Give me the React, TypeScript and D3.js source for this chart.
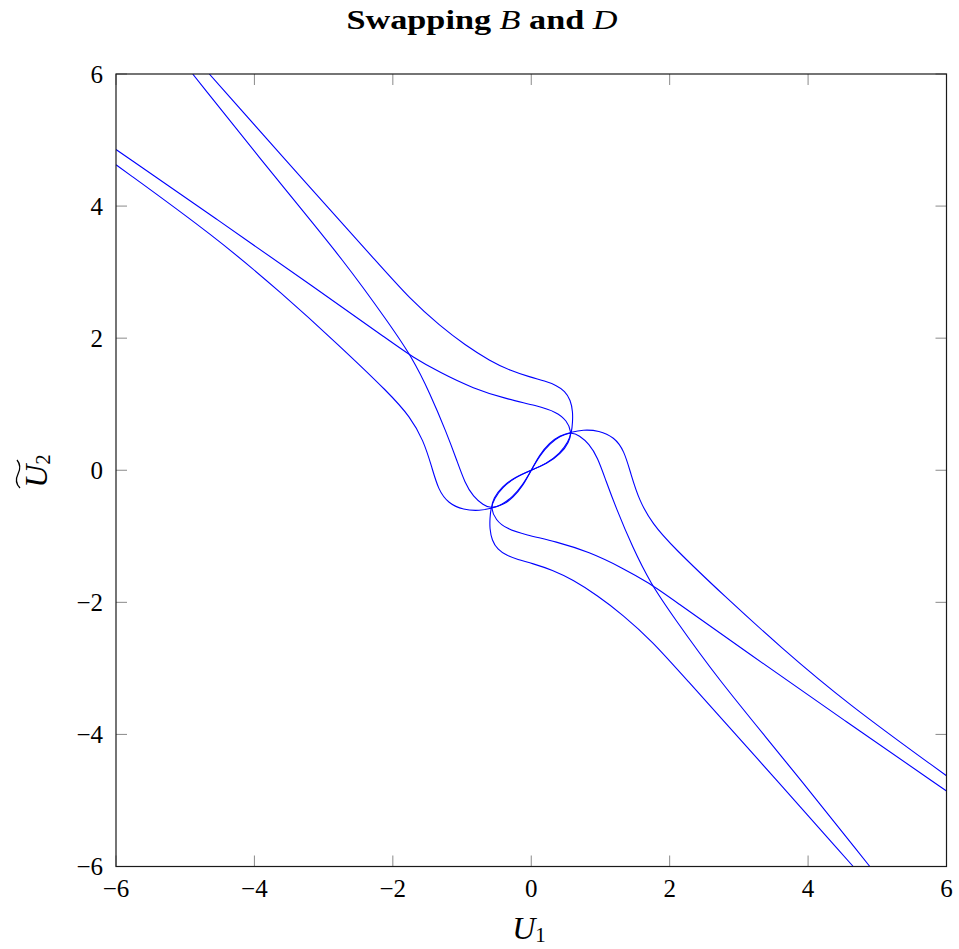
import React from 'react';
import * as d3 from 'd3';

type P = [number, number];

const xTicks = [-6, -4, -2, 0, 2, 4, 6];
const yTicks = [-6, -4, -2, 0, 2, 4, 6];

// steep inner branch
const curveA: P[] = [
  [-4.652, 6.0], [-3.197, 4.282], [-2.185, 3.1], [-1.751, 2.592], [-1.318, 2.184],
  [-0.957, 1.896], [-0.595, 1.654], [-0.306, 1.51], [-0.017, 1.411], [0.199, 1.35],
  [0.358, 1.29], [0.488, 1.199], [0.568, 1.063], [0.601, 0.881], [0.597, 0.73],
  [0.585, 0.58], [0.536, 0.432], [0.416, 0.256], [0.224, 0.104],
  [0, 0],
  [-0.224, -0.104], [-0.416, -0.256], [-0.536, -0.432], [-0.585, -0.58],
  [-0.597, -0.73], [-0.601, -0.881], [-0.568, -1.063], [-0.488, -1.199], [-0.358, -1.29],
  [-0.199, -1.35], [0.017, -1.411], [0.306, -1.51], [0.595, -1.654], [0.957, -1.896],
  [1.318, -2.184], [1.751, -2.592], [2.185, -3.1], [3.197, -4.282], [4.652, -6.0],
];

// shallow outer branch
const curveB: P[] = [
  [-6.0, 4.856], [-4.555, 3.811], [-3.11, 2.751], [-2.001, 1.926], [-1.727, 1.722],
  [-1.318, 1.479], [-0.837, 1.237], [-0.354, 1.078], [0.079, 0.98], [0.368, 0.881],
  [0.513, 0.753], [0.585, 0.58], [0.546, 0.425], [0.428, 0.25], [0.232, 0.1],
  [0, 0],
  [-0.232, -0.1], [-0.428, -0.25], [-0.546, -0.425], [-0.585, -0.58], [-0.513, -0.753],
  [-0.368, -0.881], [-0.079, -0.98], [0.354, -1.078], [0.837, -1.237], [1.318, -1.479],
  [1.727, -1.722], [2.001, -1.926], [3.11, -2.751], [4.555, -3.811], [6.0, -4.856],
];

// steep outer branch
const curveC: P[] = [
  [-4.892, 6.0], [-3.623, 4.334], [-2.691, 3.153], [-2.04, 2.199], [-1.727, 1.719],
  [-1.462, 1.164], [-1.221, 0.559], [-1.077, 0.154], [-0.957, -0.198], [-0.837, -0.401],
  [-0.692, -0.527], [-0.585, -0.58], [-0.416, -0.518], [-0.272, -0.407], [-0.127, -0.23],
  [0, 0],
  [0.127, 0.23], [0.272, 0.407], [0.416, 0.518], [0.585, 0.58], [0.692, 0.527],
  [0.837, 0.401], [0.957, 0.198], [1.077, -0.154], [1.221, -0.559], [1.462, -1.164],
  [1.727, -1.719], [2.04, -2.199], [2.691, -3.153], [3.623, -4.334], [4.892, -6.0],
];

// shallow inner branch
const curveD: P[] = [
  [-6.0, 4.626], [-4.555, 3.527], [-3.591, 2.668], [-2.796, 1.911], [-2.04, 1.154],
  [-1.751, 0.81], [-1.559, 0.457], [-1.438, 0.053], [-1.342, -0.3], [-1.198, -0.501],
  [-0.981, -0.603], [-0.74, -0.613], [-0.585, -0.58], [-0.406, -0.526], [-0.262, -0.415],
  [-0.12, -0.238],
  [0, 0],
  [0.12, 0.238], [0.262, 0.415], [0.406, 0.526], [0.585, 0.58], [0.74, 0.613],
  [0.981, 0.603], [1.198, 0.501], [1.342, 0.3], [1.438, -0.053], [1.559, -0.457],
  [1.751, -0.81], [2.04, -1.154], [2.796, -1.911], [3.591, -2.668], [4.555, -3.527],
  [6.0, -4.626],
];

const curves: P[][] = [curveA, curveB, curveC, curveD];

const FONT = '"Liberation Serif", "Times New Roman", serif';

const fmt = (v: number) => (v < 0 ? '\u2212' + Math.abs(v) : String(v));

export default function App() {
  const W = 959;
  const H = 949;
  const left = 116;
  const right = 946.5;
  const top = 74;
  const bottom = 866.5;
  const x = d3.scaleLinear().domain([-6, 6]).range([left, right]);
  const y = d3.scaleLinear().domain([-6, 6]).range([bottom, top]);
  const line = d3
    .line<P>()
    .x((d) => x(d[0]))
    .y((d) => y(d[1]))
    .curve(d3.curveBasis);
  const tickLen = 11;
  const tf = { fontFamily: FONT };

  return (
    <svg
      width={W}
      height={H}
      viewBox={`0 0 ${W} ${H}`}
      style={{ position: 'absolute', left: 0, top: 0, background: '#fff' }}
    >
      <defs>
        <clipPath id="plotclip">
          <rect x={left} y={top} width={right - left} height={bottom - top} />
        </clipPath>
      </defs>

      {/* title */}
      <text
        x={482}
        y={29}
        textAnchor="middle"
        fontSize={27}
        fontWeight="bold"
        textLength={271}
        lengthAdjust="spacingAndGlyphs"
        fill="#000"
        style={tf}
      >
        Swapping <tspan fontStyle="italic" fontWeight="normal">B</tspan> and{' '}
        <tspan fontStyle="italic" fontWeight="normal">D</tspan>
      </text>

      {/* curves */}
      <g clipPath="url(#plotclip)">
        {curves.map((c, i) => (
          <path key={i} d={line(c) || ''} fill="none" stroke="#0000ff" strokeWidth={1.1} />
        ))}
      </g>

      {/* ticks */}
      <g stroke="#8a8a8a" strokeWidth={1}>
        {xTicks.map((t) => (
          <g key={'xt' + t}>
            <line x1={x(t)} x2={x(t)} y1={bottom} y2={bottom - tickLen} />
            <line x1={x(t)} x2={x(t)} y1={top} y2={top + tickLen} />
          </g>
        ))}
        {yTicks.map((t) => (
          <g key={'yt' + t}>
            <line x1={left} x2={left + tickLen} y1={y(t)} y2={y(t)} />
            <line x1={right} x2={right - tickLen} y1={y(t)} y2={y(t)} />
          </g>
        ))}
      </g>

      {/* frame */}
      <rect
        x={left}
        y={top}
        width={right - left}
        height={bottom - top}
        fill="none"
        stroke="#1a1a1a"
        strokeWidth={1.2}
      />

      {/* tick labels */}
      {xTicks.map((t) => (
        <text key={'xl' + t} x={x(t)} y={897} textAnchor="middle" fontSize={25} fill="#000" style={tf}>
          {fmt(t)}
        </text>
      ))}
      {yTicks.map((t) => (
        <text key={'yl' + t} x={103} y={y(t) + 8.5} textAnchor="end" fontSize={25} fill="#000" style={tf}>
          {fmt(t)}
        </text>
      ))}

      {/* x label */}
      <text x={529} y={939} textAnchor="middle" fontSize={32} fill="#000" style={tf}>
        <tspan fontStyle="italic">U</tspan>
        <tspan fontSize={21} dy={3}>1</tspan>
      </text>

      {/* y label */}
      <g transform="translate(47,471) rotate(-90)">
        <text x={0} y={0} textAnchor="middle" fontSize={32} fill="#000" style={tf}>
          <tspan fontStyle="italic">U</tspan>
          <tspan fontSize={21} dy={3}>2</tspan>
        </text>
        <path
          d="M -17 -27 Q -11 -33 -3 -29 T 11 -30"
          fill="none"
          stroke="#000"
          strokeWidth={1.3}
        />
      </g>
    </svg>
  );
}
